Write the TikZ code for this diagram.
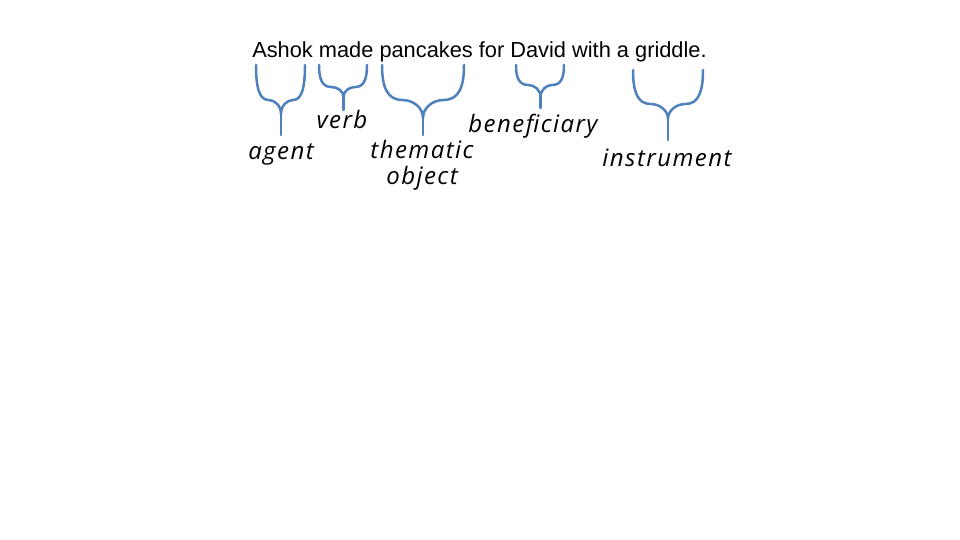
\documentclass[tikz,border=0pt]{standalone}
\usepackage{fontspec}
\setmainfont{Liberation Sans}
\newfontfamily\handfont[LetterSpace=6]{Open Sans}
\tikzset{
  bracestyle/.style={draw=brace, line width=2.5pt, line cap=round, line join=round},
  sentence/.style={font=\fontsize{21.8}{26}\selectfont, inner sep=0pt, anchor=base},
  rolelabel/.style={font=\handfont\itshape\fontsize{24}{26}\selectfont, inner sep=0pt, align=center, anchor=base}
}
\definecolor{brace}{HTML}{4F81BD}
% #1 name, #2 left x, #3 right x, #4 top y, #5 center x, #6 shoulder y, #7 junction y, #8 bottom y
\newcommand\Ybrace[8]{%
  \coordinate (#1L) at (#2,#4);
  \coordinate (#1R) at (#3,#4);
  \coordinate (#1SL) at ({(#2+#5)/2},#6);
  \coordinate (#1SR) at ({(#3+#5)/2},#6);
  \coordinate (#1J) at (#5,#7);
  \coordinate (#1B) at (#5,#8);
  \draw[bracestyle] (#1L)
     .. controls (#2,{#4+0.62*(#6-#4)}) and ({#2+0.12*(#5-#2)},#6) .. (#1SL)
     .. controls ({#5-0.25*(#5-#2)},#6) and (#5,{#7-0.6*(#7-#6)}) .. (#1J)
     .. controls (#5,{#7-0.6*(#7-#6)}) and ({#5+0.25*(#3-#5)},#6) .. (#1SR)
     .. controls ({#3-0.12*(#3-#5)},#6) and (#3,{#4+0.62*(#6-#4)}) .. (#1R);
  \draw[bracestyle] (#1J) -- (#1B);
}
\begin{document}
\begin{tikzpicture}[x=1pt,y=-1pt]
\useasboundingbox (0,0) rectangle (960,540);
\fill[white] (0,0) rectangle (960,540);
\node[sentence] (sent) at (479.5,58) {Ashok made pancakes for David with a griddle.};
\Ybrace{ag}{256}{305}{65}{281}{100}{114}{135}
\Ybrace{vb}{319}{367}{65}{343.5}{87}{97}{110}
\Ybrace{th}{382}{464}{65}{423}{100}{118}{135}
\Ybrace{bn}{516}{564}{65}{540.5}{85}{97}{108}
\Ybrace{in}{633}{703}{70}{668}{104}{119}{140}
\node[rolelabel] (agent) at (281,160) {agent};
\node[rolelabel] (verb) at (342,129) {verb};
\node[rolelabel] (them) at (422,185) {thematic\\object};
\node[rolelabel] (bene) at (533,133) {beneficiary};
\node[rolelabel] (instr) at (667,167) {instrument};
\end{tikzpicture}
\end{document}
